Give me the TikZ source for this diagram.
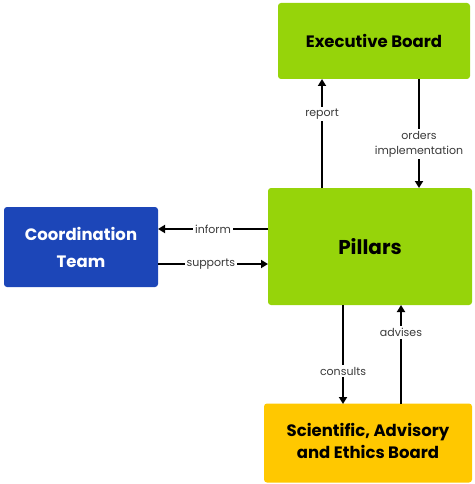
\documentclass[tikz,border=0pt]{standalone}
\usepackage{fontspec}
\setmainfont{Poppins}
\usetikzlibrary{arrows.meta}
\definecolor{grn}{HTML}{96D40A}
\definecolor{blu}{HTML}{1C46B8}
\definecolor{yel}{HTML}{FFC800}
\definecolor{lbl}{HTML}{3A3A3A}
\tikzset{
  box/.style={draw=none, rounded corners=3pt, inner sep=0pt, align=center, font=\bfseries},
  conn/.style={line width=1.8pt, -{Triangle[length=7pt,width=8pt]}},
  lab/.style={fill=white, text=lbl, font=\fontsize{11}{15}\selectfont, inner sep=2pt, align=center}
}
\begin{document}
\begin{tikzpicture}[x=1pt,y=-1pt]
\useasboundingbox (0,0) rectangle (474,484);
\node[box, fill=grn, minimum width=192pt, minimum height=76pt, font=\fontsize{16.5}{20}\selectfont\bfseries] (eb) at (374,41) {Executive Board};
\node[box, fill=grn, minimum width=204pt, minimum height=117pt, font=\fontsize{20}{24}\selectfont\bfseries] (pil) at (370,246.5) {Pillars};
\node[box, fill=blu, text=white, minimum width=154pt, minimum height=80pt, font=\fontsize{16.5}{27}\selectfont\bfseries] (ct) at (81,247) {Coordination\\Team};
\node[box, fill=yel, minimum width=208pt, minimum height=79pt, font=\fontsize{16.5}{22}\selectfont\bfseries] (sab) at (368,443) {};
\node[font=\fontsize{16.5}{22}\selectfont\bfseries, align=center, inner sep=0pt] (sabt) at (368,441) {Scientific, Advisory\\and Ethics Board};
% connectors
\coordinate (r1) at (322,188); \coordinate (r2) at (322,79);
\draw[conn] (r1) -- node[lab, pos=0.68] {report} (r2);
\coordinate (o1) at (419,79); \coordinate (o2) at (419,188);
\draw[conn] (o1) -- node[lab, pos=0.6] {orders\\implementation} (o2);
\coordinate (i1) at (268,229); \coordinate (i2) at (158,229);
\draw[conn] (i1) -- node[lab, pos=0.5] {inform} (i2);
\coordinate (s1) at (158,264); \coordinate (s2) at (268,264);
\draw[conn] (s1) -- node[lab, pos=0.48] {supports} (s2);
\coordinate (c1) at (343,305); \coordinate (c2) at (343,404);
\draw[conn] (c1) -- node[lab, pos=0.67] {consults} (c2);
\coordinate (a1) at (401,404); \coordinate (a2) at (401,305);
\draw[conn] (a1) -- node[lab, pos=0.72] {advises} (a2);
\end{tikzpicture}
\end{document}
